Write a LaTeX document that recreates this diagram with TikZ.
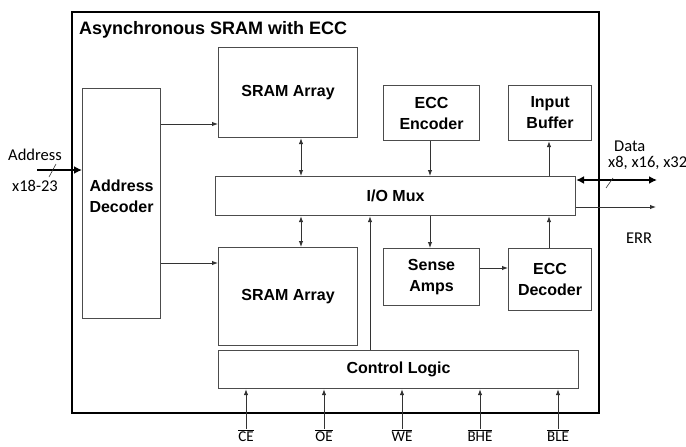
\documentclass[tikz,border=0pt]{standalone}
\usepackage{fontspec}
\setmainfont{Liberation Sans}
\newfontfamily\lblfont{Carlito}
\usetikzlibrary{arrows.meta}
\begin{document}
\begin{tikzpicture}[x=1pt,y=-1pt,
  blk/.style={draw=black!70,line width=1.1pt,fill=white,align=center,
    font=\bfseries\fontsize{16}{21}\selectfont,inner sep=0pt},
  sig/.style={draw=black!80,line width=1pt,-{Latex[length=6pt,width=4.5pt]}},
  bisig/.style={draw=black!80,line width=1pt,{Latex[length=6pt,width=4.5pt]}-{Latex[length=6pt,width=4.5pt]}},
  bus/.style={draw=black,line width=2.6pt,-{Latex[length=8pt,width=8pt]}},
  bibus/.style={draw=black,line width=2.6pt,{Latex[length=8pt,width=8pt]}-{Latex[length=8pt,width=8pt]}},
  lbl/.style={font=\lblfont\fontsize{16.5}{18}\selectfont,inner sep=0pt}]
\useasboundingbox (0,0) rectangle (686,447);
% chip outline and title
\node[draw=black,line width=2.4pt,minimum width=527pt,minimum height=401pt,anchor=north west,inner sep=0pt] (chip) at (71,11) {};
\node[anchor=west,font=\bfseries\fontsize{18}{20}\selectfont,inner sep=0pt] (title) at (79,30) {Asynchronous SRAM with ECC};
% functional blocks
\node[blk,minimum width=78pt,minimum height=230pt,anchor=north west] (dec) at (82,88) {Address\\Decoder\\[-6pt]};
\node[blk,minimum width=139pt,minimum height=90pt,anchor=north west] (ramA) at (218,47) {SRAM Array};
\node[blk,minimum width=139pt,minimum height=98pt,anchor=north west] (ramB) at (218,247) {SRAM Array};
\node[blk,minimum width=360pt,minimum height=39pt,anchor=north west] (mux) at (215,176) {I/O Mux};
\node[blk,minimum width=96pt,minimum height=55pt,anchor=north west] (enc) at (383,85) {ECC\\Encoder};
\node[blk,minimum width=83pt,minimum height=55pt,anchor=north west] (inb) at (508,85) {Input\\Buffer};
\node[blk,minimum width=96pt,minimum height=57pt,anchor=north west] (amp) at (383,248) {Sense\\Amps};
\node[blk,minimum width=83pt,minimum height=62pt,anchor=north west] (edec) at (508,248) {ECC\\Decoder};
\node[blk,minimum width=360pt,minimum height=38pt,anchor=north west] (ctl) at (218,350) {Control Logic};
% internal connections
\draw[sig] (dec.east |- 0,124) -- (ramA.west |- 0,124);
\draw[sig] (dec.east |- 0,263) -- (ramB.west |- 0,263);
\draw[bisig] (ramA.south -| 301,0) -- (mux.north -| 301,0);
\draw[bisig] (mux.south -| 301,0) -- (ramB.north -| 301,0);
\draw[sig] (enc.south -| 430,0) -- (mux.north -| 430,0);
\draw[sig] (mux.south -| 430,0) -- (amp.north -| 430,0);
\draw[sig] (mux.north -| 549,0) -- (inb.south -| 549,0);
\draw[sig] (edec.north -| 549,0) -- (mux.south -| 549,0);
\draw[sig] (amp.east |- 0,268) -- (edec.west |- 0,268);
\draw[sig] (ctl.north -| 370,0) -- (mux.south -| 370,0);
% address input
\coordinate (ain) at (37,170);
\draw[bus] (ain) -- (dec.west |- ain);
\draw[black!80,line width=0.6pt] (49,177) -- (56,164);
\node[lbl,anchor=south] (alab) at (35,161) {Address};
\node[lbl,anchor=north] (awid) at (35,180) {x18-23};
% data bus and error flag
\coordinate (dout) at (657,180);
\draw[bibus] (mux.east |- dout) -- (dout);
\draw[black!80,line width=0.6pt] (606,188) -- (613,178);
\node[lbl,anchor=west] (dlab) at (614,146) {Data};
\node[lbl,anchor=west] (dwid) at (608,163) {x8, x16, x32};
\coordinate (eout) at (656,207);
\draw[sig] (mux.east |- eout) -- (eout);
\node[lbl] (elab) at (639,238) {ERR};
% control inputs
\foreach \x/\n/\t in {246/ce/CE,324/oe/OE,402/we/WE,480/bhe/BHE,558/ble/BLE}{
  \coordinate (\n) at (\x,429);
  \draw[sig] (\n) -- (ctl.south -| \n);
  \node[lbl,font=\lblfont\fontsize{15}{16}\selectfont,anchor=north] at (\x,429.5) {$\overline{\mbox{\t}}$};
}
\end{tikzpicture}
\end{document}
